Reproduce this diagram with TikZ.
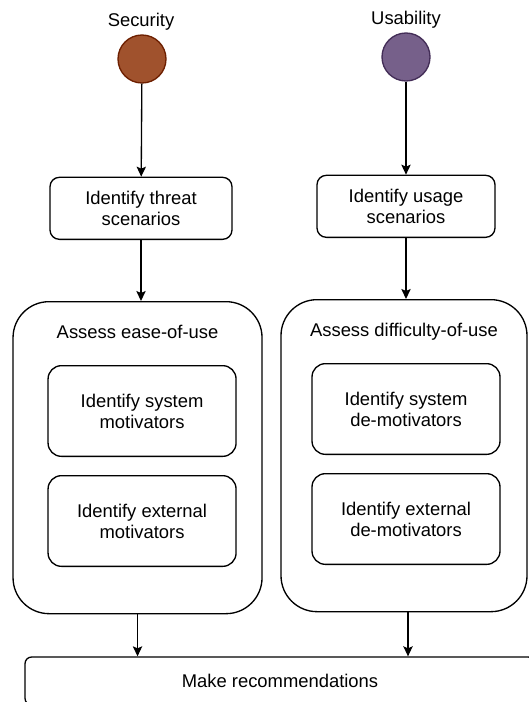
\documentclass[tikz,border=0pt]{standalone}
\usepackage{fontspec}
\setmainfont{Liberation Sans}
\usepackage{tikz}
\usetikzlibrary{arrows.meta,positioning}
\definecolor{secfill}{HTML}{A0522D}
\definecolor{secline}{HTML}{6D1F00}
\definecolor{usefill}{HTML}{76608A}
\definecolor{useline}{HTML}{432D57}

\begin{document}
\begin{tikzpicture}[x=0.75pt, y=-0.75pt,
          stepbox/.style={draw, rounded corners=7pt, line width=1pt,
                      minimum width=136.5pt, minimum height=46.5pt,
                      font=\fontsize{13.8}{15.8}\selectfont, align=center, inner sep=2pt},
          group/.style={draw, rounded corners=27pt, line width=1pt,
                      minimum width=186.75pt, minimum height=234pt},
          subbox/.style={stepbox, rounded corners=10pt,
                      minimum width=141pt, minimum height=68pt},
          dot/.style={circle, line width=1pt, minimum size=36pt, inner sep=0pt},
          lbl/.style={font=\fontsize{13.8}{15.8}\selectfont, inner sep=1pt},
          arr/.style={-{Stealth[length=7.5pt, width=7pt, inset=1.5pt]}, line width=1pt}
        ]
          \useasboundingbox (0,0) rectangle (528,702);
          % security column
          \node[dot, fill=secfill, draw=secline] (sec) at (142,59) {};
          \node[lbl] (seclbl) at (141,22) {Security};
          \node[stepbox, below=69.75pt of sec, xshift=-0.75pt] (threat) {Identify threat\\scenarios};
          \node[group, below=45.75pt of threat, xshift=-2.6pt] (ease) {};
          \node[lbl, below=17pt of ease.north] (easetitle) {Assess ease-of-use};
          \node[subbox, below=48pt of ease.north, xshift=3.4pt] (sysmot) {Identify system\\motivators};
          \node[subbox, below=13.5pt of sysmot] (extmot) {Identify external\\motivators};
          % usability column
          \node[dot, fill=usefill, draw=useline] (use) at (406,57) {};
          \node[lbl] (uselbl) at (406,20) {Usability};
          \node[stepbox, below=69.75pt of use, minimum width=133.5pt] (usage) {Identify usage\\scenarios};
          \node[group, below=45.75pt of usage, xshift=-1.5pt, minimum width=184.5pt] (diff) {};
          \node[lbl, below=17pt of diff.north] (difftitle) {Assess difficulty-of-use};
          \node[subbox, below=48pt of diff.north, xshift=1.5pt] (sysdemot) {Identify system\\de-motivators};
          \node[subbox, below=13.5pt of sysdemot] (extdemot) {Identify external\\de-motivators};
          % joint outcome
          \node[stepbox, rounded corners=5pt, minimum width=382.5pt, minimum height=36pt] (recs) at (280,681) {Make recommendations};
          \draw[arr] (sec) -- (threat);
          \draw[arr] (threat) -- (threat |- ease.north);
          \draw[arr] (use) -- (usage);
          \draw[arr] (usage) -- (usage |- diff.north);
          \draw[arr] (ease) -- (ease |- recs.north);
          \draw[arr] (diff.south) ++(3pt,0) coordinate (diffout) -- (diffout |- recs.north);
        \end{tikzpicture}
\end{document}
